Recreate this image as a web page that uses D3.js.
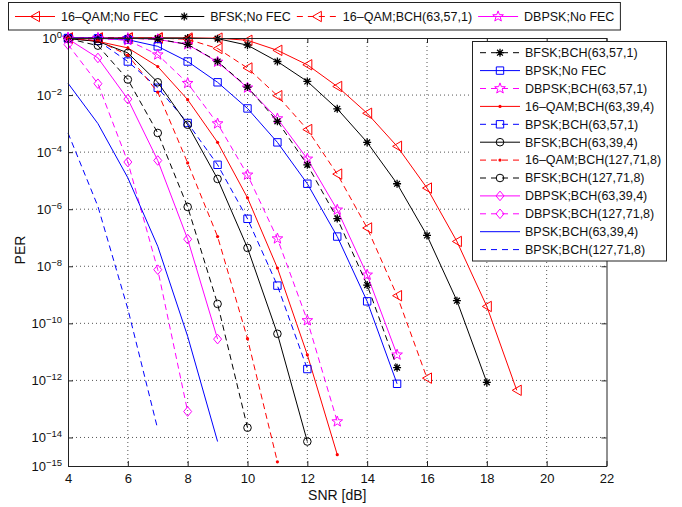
<!DOCTYPE html>
<html>

<head>
  <meta charset="utf-8">
  <title>PER vs SNR</title>
  <script src="https://cdn.jsdelivr.net/npm/d3@7"></script>
  <style type="text/css">
    html,
    body {
      margin: 0;
      padding: 0;
      background: #fff;
    }

    svg {
      display: block;
      font-family: "Liberation Sans", Arial, Helvetica, sans-serif;
    }

    .grid line {
      stroke: #555;
      stroke-width: 1;
      stroke-dasharray: 1, 3;
    }

    .axis path,
    .axis line {
      fill: none;
      stroke: #222;
      stroke-width: 1;
    }

    .axis text {
      font-size: 13px;
      fill: #111;
    }

    .legend rect {
      fill: #fff;
      stroke: #222;
      stroke-width: 1;
    }

    .legend text {
      font-size: 12.5px;
      fill: #111;
    }
  </style>
</head>

<body>
  <svg class="svg" width="682" height="507"></svg>
  <script type="text/javascript">
    // SNR points (dB), each curve starts at 4 dB
    var snr = [4, 5, 6, 7, 8, 9, 10, 11, 12, 13, 14, 15, 16, 17, 18, 19];

    // PER values
    var qamNoFec = [1, 1, 1, 1, 1, 0.99, 0.83, 0.37, 0.115, 0.02, 2.3e-3, 1.6e-4, 5.5e-6, 7.4e-8, 3.9e-10, 4.5e-13];
    var bfskNoFec = [1, 1, 1, 1, 0.99, 0.95, 0.56, 0.15, 0.03, 3.3e-3, 2.2e-4, 7.8e-6, 1.2e-7, 6.2e-10, 8.5e-13];
    var qamBch63571 = [1, 1, 1, 1, 0.9, 0.43, 0.089, 9.5e-3, 6.2e-4, 1.7e-5, 2.2e-7, 9.3e-10, 1.2e-12];
    var dbpskNoFec = [1, 1, 0.98, 0.9, 0.59, 0.145, 0.018, 1.5e-3, 5.8e-5, 9.5e-7, 5e-9, 7.9e-12];
    var bfskBch63571 = [1, 1, 0.98, 0.91, 0.6, 0.15, 0.019, 1.2e-3, 3.6e-5, 4.7e-7, 2.2e-9, 2.8e-12];
    var bpskNoFec = [1, 0.98, 0.87, 0.51, 0.15, 0.028, 3.4e-3, 2.2e-4, 7.8e-6, 1.1e-7, 5.9e-10, 7.6e-13];
    var dbpskBch63571 = [1, 0.96, 0.83, 0.26, 0.026, 1e-3, 1.6e-5, 9.3e-8, 1.26e-10, 3.6e-14];
    var qamBch63394 = [0.98, 0.76, 0.45, 0.1, 6.9e-3, 2.2e-4, 2.5e-6, 8.7e-9, 7.9e-12, 2.5e-15];
    var bpskBch63571 = [0.98, 0.8, 0.15, 0.018, 1.05e-3, 3.6e-5, 4.6e-7, 2.1e-9, 2.5e-12];
    var bfskBch63394 = [0.95, 0.76, 0.3, 0.028, 9.1e-4, 1.15e-5, 4.4e-8, 4.3e-11, 7.2e-15];
    var qamBch127718 = [1, 0.8, 0.25, 0.0126, 4.2e-5, 1.1e-7, 2.9e-11, 1.4e-15];
    var bfskBch127718 = [0.95, 0.54, 0.035, 4.7e-4, 1.2e-6, 4.8e-10, 2.2e-14];
    var dbpskBch63394 = [0.93, 0.2, 7.2e-3, 5.1e-5, 8.9e-8, 2.8e-11];
    var dbpskBch127718 = [0.59, 0.025, 4.5e-5, 7.6e-9, 8.1e-14];
    var bpskBch63394 = [0.026, 1e-3, 1.26e-5, 5e-8, 3.5e-11, 7.2e-15];
    var bpskBch127718 = [4.7e-4, 1.26e-6, 3.2e-10, 1.95e-14];

    var seriesNames = ['16–QAM;No FEC', 'BFSK;No FEC', '16–QAM;BCH(63,57,1)', 'DBPSK;No FEC',
      'BFSK;BCH(63,57,1)', 'BPSK;No FEC', 'DBPSK;BCH(63,57,1)', '16–QAM;BCH(63,39,4)',
      'BPSK;BCH(63,57,1)', 'BFSK;BCH(63,39,4)', '16–QAM;BCH(127,71,8)', 'BFSK;BCH(127,71,8)',
      'DBPSK;BCH(63,39,4)', 'DBPSK;BCH(127,71,8)', 'BPSK;BCH(63,39,4)', 'BPSK;BCH(127,71,8)'];

    var xTicks = [4, 6, 8, 10, 12, 14, 16, 18, 20, 22];
    var yTicks = [1, 1e-2, 1e-4, 1e-6, 1e-8, 1e-10, 1e-12, 1e-14, 1e-15];

    var red = '#ff0000', black = '#000000', blue = '#0000ff', magenta = '#ff00ff';

    // style of each curve (same order as the names)
    var styles = [
      { values: qamNoFec, color: red, dash: false, marker: 'tri' },
      { values: bfskNoFec, color: black, dash: false, marker: 'asterisk' },
      { values: qamBch63571, color: red, dash: true, marker: 'tri' },
      { values: dbpskNoFec, color: magenta, dash: false, marker: 'star' },
      { values: bfskBch63571, color: black, dash: true, marker: 'asterisk' },
      { values: bpskNoFec, color: blue, dash: false, marker: 'square' },
      { values: dbpskBch63571, color: magenta, dash: true, marker: 'star' },
      { values: qamBch63394, color: red, dash: false, marker: 'dot' },
      { values: bpskBch63571, color: blue, dash: true, marker: 'square' },
      { values: bfskBch63394, color: black, dash: false, marker: 'circle' },
      { values: qamBch127718, color: red, dash: true, marker: 'dot' },
      { values: bfskBch127718, color: black, dash: true, marker: 'circle' },
      { values: dbpskBch63394, color: magenta, dash: false, marker: 'diamond' },
      { values: dbpskBch127718, color: magenta, dash: true, marker: 'diamond' },
      { values: bpskBch63394, color: blue, dash: false, marker: 'none' },
      { values: bpskBch127718, color: blue, dash: true, marker: 'none' }
    ];

    var series = styles.map(function (s, i) {
      return Object.assign({ name: seriesNames[i] }, s, {
        points: s.values.map(function (v, j) { return { snr: snr[j], per: v }; })
      });
    });

    var svg = d3.select('.svg');
    // plot box (window.top is reserved, so use other names)
    var plotL = 68, plotT = 38, plotR = 606.5, plotB = 466;

    var xScale = d3.scaleLinear().domain([4, 22]).range([plotL, plotR]);
    var yScale = d3.scaleLog().domain([1e-15, 1]).range([plotB, plotT]);

    // grid
    var grid = svg.append('g').attr('class', 'grid');
    grid.selectAll('.vx')
      .data(xTicks.slice(1, -1))
      .enter()
      .append('line')
      .attr('x1', d => xScale(d)).attr('x2', d => xScale(d))
      .attr('y1', plotT).attr('y2', plotB);
    grid.selectAll('.hy')
      .data(yTicks.slice(1, -1))
      .enter()
      .append('line')
      .attr('x1', plotL).attr('x2', plotR)
      .attr('y1', d => yScale(d)).attr('y2', d => yScale(d));

    // markers
    function markerPath(type) {
      if (type === 'tri') return 'M-4.5,0L4.5,-5.2L4.5,5.2Z';
      if (type === 'square') return 'M-3.7,-3.7H3.7V3.7H-3.7Z';
      if (type === 'diamond') return 'M0,-4.8L4,0L0,4.8L-4,0Z';
      if (type === 'circle') return 'M3.8,0A3.8,3.8 0 1,1 -3.8,0A3.8,3.8 0 1,1 3.8,0Z';
      if (type === 'asterisk') return 'M-4,0H4M0,-4V4M-2.9,-2.9L2.9,2.9M-2.9,2.9L2.9,-2.9';
      if (type === 'star') {
        var p = '';
        for (var k = 0; k < 10; k++) {
          var r = k % 2 ? 2.3 : 5.6;
          var a = -Math.PI / 2 + k * Math.PI / 5;
          p += (k ? 'L' : 'M') + (r * Math.cos(a)).toFixed(2) + ',' + (r * Math.sin(a)).toFixed(2);
        }
        return p + 'Z';
      }
      return null;
    }

    function drawMarker(g, type, color) {
      if (type === 'none') return;
      if (type === 'dot') {
        g.append('circle').attr('r', 1.6).attr('fill', color);
        return;
      }
      g.append('path')
        .attr('d', markerPath(type))
        .attr('fill', 'none')
        .attr('stroke', color)
        .attr('stroke-width', type === 'asterisk' ? 1.3 : 1);
    }

    var linePath = d3.line()
      .x(d => xScale(d.snr))
      .y(d => yScale(d.per));

    // curves
    var curves = svg.append('g').attr('class', 'curves');
    series.forEach(function (s) {
      curves.append('path')
        .attr('d', linePath(s.points))
        .attr('fill', 'none')
        .attr('stroke', s.color)
        .attr('stroke-width', 1)
        .attr('stroke-dasharray', s.dash ? '6,4' : null);

      curves.selectAll(null)
        .data(s.points)
        .enter()
        .append('g')
        .attr('transform', d => `translate(${xScale(d.snr)},${yScale(d.per)})`)
        .each(function () { drawMarker(d3.select(this), s.marker, s.color); });
    });

    // axes (ticks inward on all four sides)
    var xAxis = d3.axisBottom(xScale).tickValues(xTicks).tickSizeInner(-5).tickSizeOuter(0).tickPadding(8);
    var yAxis = d3.axisLeft(yScale).tickValues(yTicks).tickSizeInner(-5).tickSizeOuter(0).tickPadding(6).tickFormat('');
    var xTop = d3.axisTop(xScale).tickValues(xTicks).tickSizeInner(-5).tickSizeOuter(0).tickFormat('');
    var yRight = d3.axisRight(yScale).tickValues(yTicks).tickSizeInner(-5).tickSizeOuter(0).tickFormat('');

    svg.append('g').attr('class', 'x axis').attr('transform', `translate(0,${plotB})`).call(xAxis);
    var yG = svg.append('g').attr('class', 'y axis').attr('transform', `translate(${plotL},0)`).call(yAxis);
    svg.append('g').attr('class', 'axis').attr('transform', `translate(0,${plotT})`).call(xTop);
    svg.append('g').attr('class', 'axis').attr('transform', `translate(${plotR},0)`).call(yRight);

    // 10^n labels
    yG.selectAll('.tick text').each(function (d) {
      var t = d3.select(this);
      var e = Math.round(Math.log10(d));
      t.append('tspan').text('10');
      t.append('tspan')
        .attr('dy', -5)
        .attr('font-size', '9.5px')
        .text(e === 0 ? '0' : '−' + (-e));
    });

    svg.append('text')
      .attr('x', (plotL + plotR) / 2)
      .attr('y', 500)
      .attr('text-anchor', 'middle')
      .attr('font-size', '14px')
      .attr('fill', '#111')
      .text('SNR [dB]');

    svg.append('text')
      .attr('transform', 'translate(25,250) rotate(-90)')
      .attr('text-anchor', 'middle')
      .attr('font-size', '14px')
      .attr('fill', '#111')
      .text('PER');

    function legendSample(g, s, x0, x1, y) {
      g.append('line')
        .attr('x1', x0).attr('x2', x1)
        .attr('y1', y).attr('y2', y)
        .attr('stroke', s.color)
        .attr('stroke-width', 1)
        .attr('stroke-dasharray', s.dash ? '6,5' : null);
      var m = g.append('g').attr('transform', `translate(${(x0 + x1) / 2},${y})`);
      drawMarker(m, s.marker, s.color);
    }

    // top legend
    var topLegend = svg.append('g').attr('class', 'legend');
    var topBox = topLegend.append('rect').attr('x', 8.5).attr('y', 2.5).attr('height', 27.5);
    var cx = 15;
    series.slice(0, 4).forEach(function (s) {
      legendSample(topLegend, s, cx, cx + 40, 16.5);
      var t = topLegend.append('text')
        .attr('x', cx + 46)
        .attr('y', 16.5)
        .attr('dy', '0.35em')
        .text(s.name);
      cx = cx + 46 + t.node().getComputedTextLength() + 6;
    });
    topBox.attr('width', cx - 8.5);

    // right legend
    var rightLegend = svg.append('g').attr('class', 'legend');
    rightLegend.append('rect')
      .attr('x', 472.5).attr('y', 41.5)
      .attr('width', 194).attr('height', 219.5);
    series.slice(4).forEach(function (s, i) {
      var y = 52.7 + i * 17.9;
      legendSample(rightLegend, s, 480, 520, y);
      rightLegend.append('text')
        .attr('x', 525)
        .attr('y', y)
        .attr('dy', '0.35em')
        .text(s.name);
    });
  </script>
</body>

</html>
